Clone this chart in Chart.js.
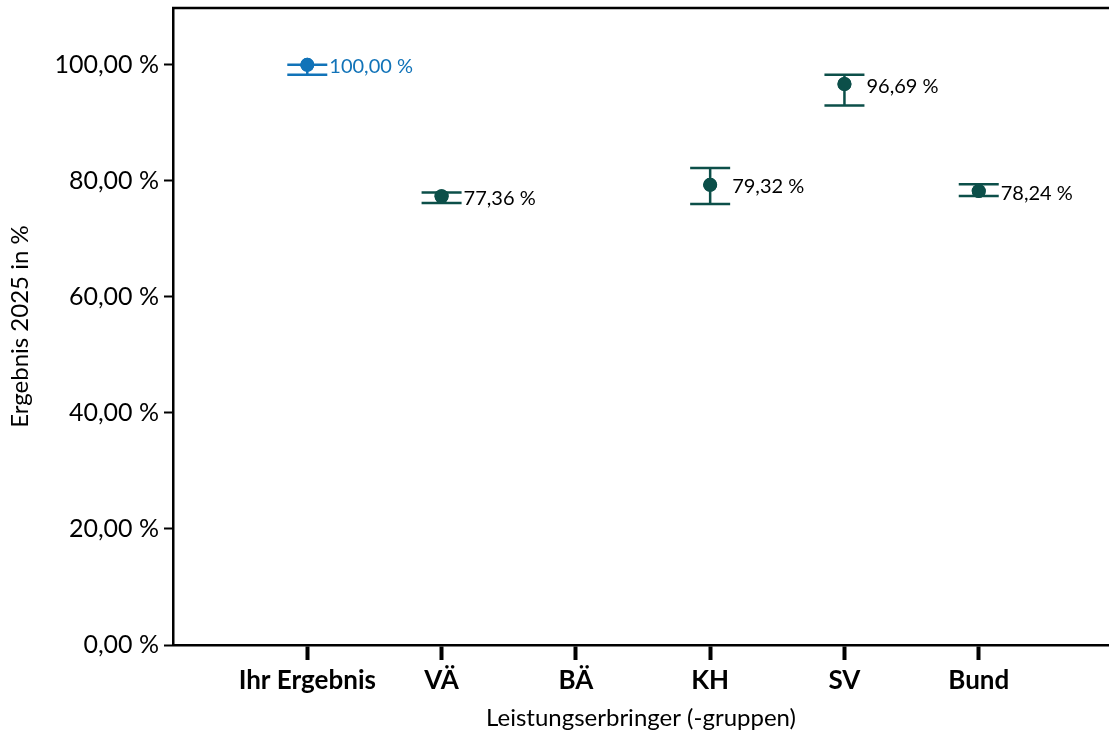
<!DOCTYPE html>
<html>
<head>
<meta charset="utf-8">
<script src="https://cdn.jsdelivr.net/npm/chart.js@4/dist/chart.umd.min.js"></script>
<style>
  html, body { margin: 0; padding: 0; background: #fff; }
  #wrap { width: 1109px; height: 737px; }
</style>
</head>
<body>
<div id="wrap"><canvas id="chart"></canvas></div>
<script>
// categories and results
const categories = ['Ihr Ergebnis', 'VÄ', 'BÄ', 'KH', 'SV', 'Bund'];
const results = [100, 77.36, null, 79.32, 96.69, 78.24];
const lowerBound = [98.3, 76.2, null, 76.0, 93.0, 77.4];
const upperBound = [100, 78.0, null, 82.2, 98.3, 79.4];
const yTickValues = [0, 20, 40, 60, 80, 100];

const ownColor = '#1173b8';
const groupColor = '#0c4f49';
const colors = categories.map((c, i) => i === 0 ? ownColor : groupColor);
const FONT = 'Lato, "Open Sans", sans-serif';

const fmt = v => v.toFixed(2).replace('.', ',') + ' %';

const points = [];
categories.forEach((c, i) => {
  if (results[i] !== null) points.push({ x: i + 1, y: results[i], idx: i });
});

// error bars + value labels
const errorBars = {
  id: 'errorBars',
  afterDatasetsDraw(chart) {
    const ctx = chart.ctx;
    const xs = chart.scales.x, ys = chart.scales.y;
    ctx.save();
    // top frame line
    ctx.strokeStyle = '#000';
    ctx.lineWidth = 2.5;
    ctx.beginPath();
    ctx.moveTo(chart.chartArea.left - 1, chart.chartArea.top);
    ctx.lineTo(chart.chartArea.right, chart.chartArea.top);
    ctx.stroke();

    points.forEach(p => {
      const i = p.idx;
      const x = xs.getPixelForValue(i + 1);
      const yLo = ys.getPixelForValue(lowerBound[i]);
      const yHi = ys.getPixelForValue(upperBound[i]);
      ctx.strokeStyle = colors[i];
      ctx.lineWidth = 2.5;
      ctx.beginPath();
      ctx.moveTo(x, yLo); ctx.lineTo(x, yHi);
      ctx.moveTo(x - 20, yLo); ctx.lineTo(x + 20, yLo);
      ctx.moveTo(x - 20, yHi); ctx.lineTo(x + 20, yHi);
      ctx.stroke();
      // redraw point on top
      const y = ys.getPixelForValue(results[i]);
      ctx.fillStyle = colors[i];
      ctx.beginPath();
      ctx.arc(x, y, 7, 0, Math.PI * 2);
      ctx.fill();
      // label
      ctx.fillStyle = i === 0 ? ownColor : '#000';
      ctx.font = '20px ' + FONT;
      ctx.textBaseline = 'middle';
      ctx.textAlign = 'left';
      ctx.fillText(fmt(results[i]), x + 22, y + 2);
    });
    ctx.restore();
  }
};

new Chart(document.getElementById('chart'), {
  type: 'scatter',
  data: {
    datasets: [{
      data: points,
      pointRadius: 7,
      pointHoverRadius: 7,
      pointBackgroundColor: points.map(p => colors[p.idx]),
      pointBorderWidth: 0
    }]
  },
  options: {
    responsive: true,
    maintainAspectRatio: false,
    animation: false,
    events: [],
    layout: { autoPadding: false, padding: { top: 8, right: 0, left: 0, bottom: 0 } },
    plugins: { legend: { display: false }, tooltip: { enabled: false } },
    scales: {
      x: {
        type: 'linear',
        min: 0,
        max: 6.97,
        afterBuildTicks: s => { s.ticks = categories.map((c, i) => ({ value: i + 1 })); },
        afterFit: s => { s.height = 92; s.paddingLeft = 0; s.paddingRight = 0; },
        ticks: {
          callback: v => categories[v - 1] || '',
          color: '#000',
          font: { family: FONT, size: 26, weight: 'bold' },
          padding: 5,
          maxRotation: 0
        },
        grid: { drawOnChartArea: false, tickLength: 15, tickWidth: 4, tickColor: '#000' },
        border: { color: '#000', width: 2.5 },
        title: {
          display: true,
          text: 'Leistungserbringer (-gruppen)',
          color: '#000',
          font: { family: FONT, size: 24 },
          padding: { top: 0, bottom: 4 }
        }
      },
      y: {
        min: 0,
        max: 109.8,
        afterBuildTicks: s => { s.ticks = yTickValues.map(v => ({ value: v })); },
        afterFit: s => { s.width = 173; s.paddingTop = 0; s.paddingBottom = 0; },
        ticks: {
          callback: v => fmt(v),
          color: '#000',
          font: { family: FONT, size: 25 },
          padding: 5
        },
        grid: { drawOnChartArea: false, tickLength: 9, tickWidth: 2, tickColor: '#000' },
        border: { color: '#000', width: 2.5 },
        title: {
          display: true,
          text: 'Ergebnis 2025 in %',
          color: '#000',
          font: { family: FONT, size: 24 },
          padding: { top: 6, bottom: 0 }
        }
      }
    }
  },
  plugins: [errorBars]
});
</script>
</body>
</html>
